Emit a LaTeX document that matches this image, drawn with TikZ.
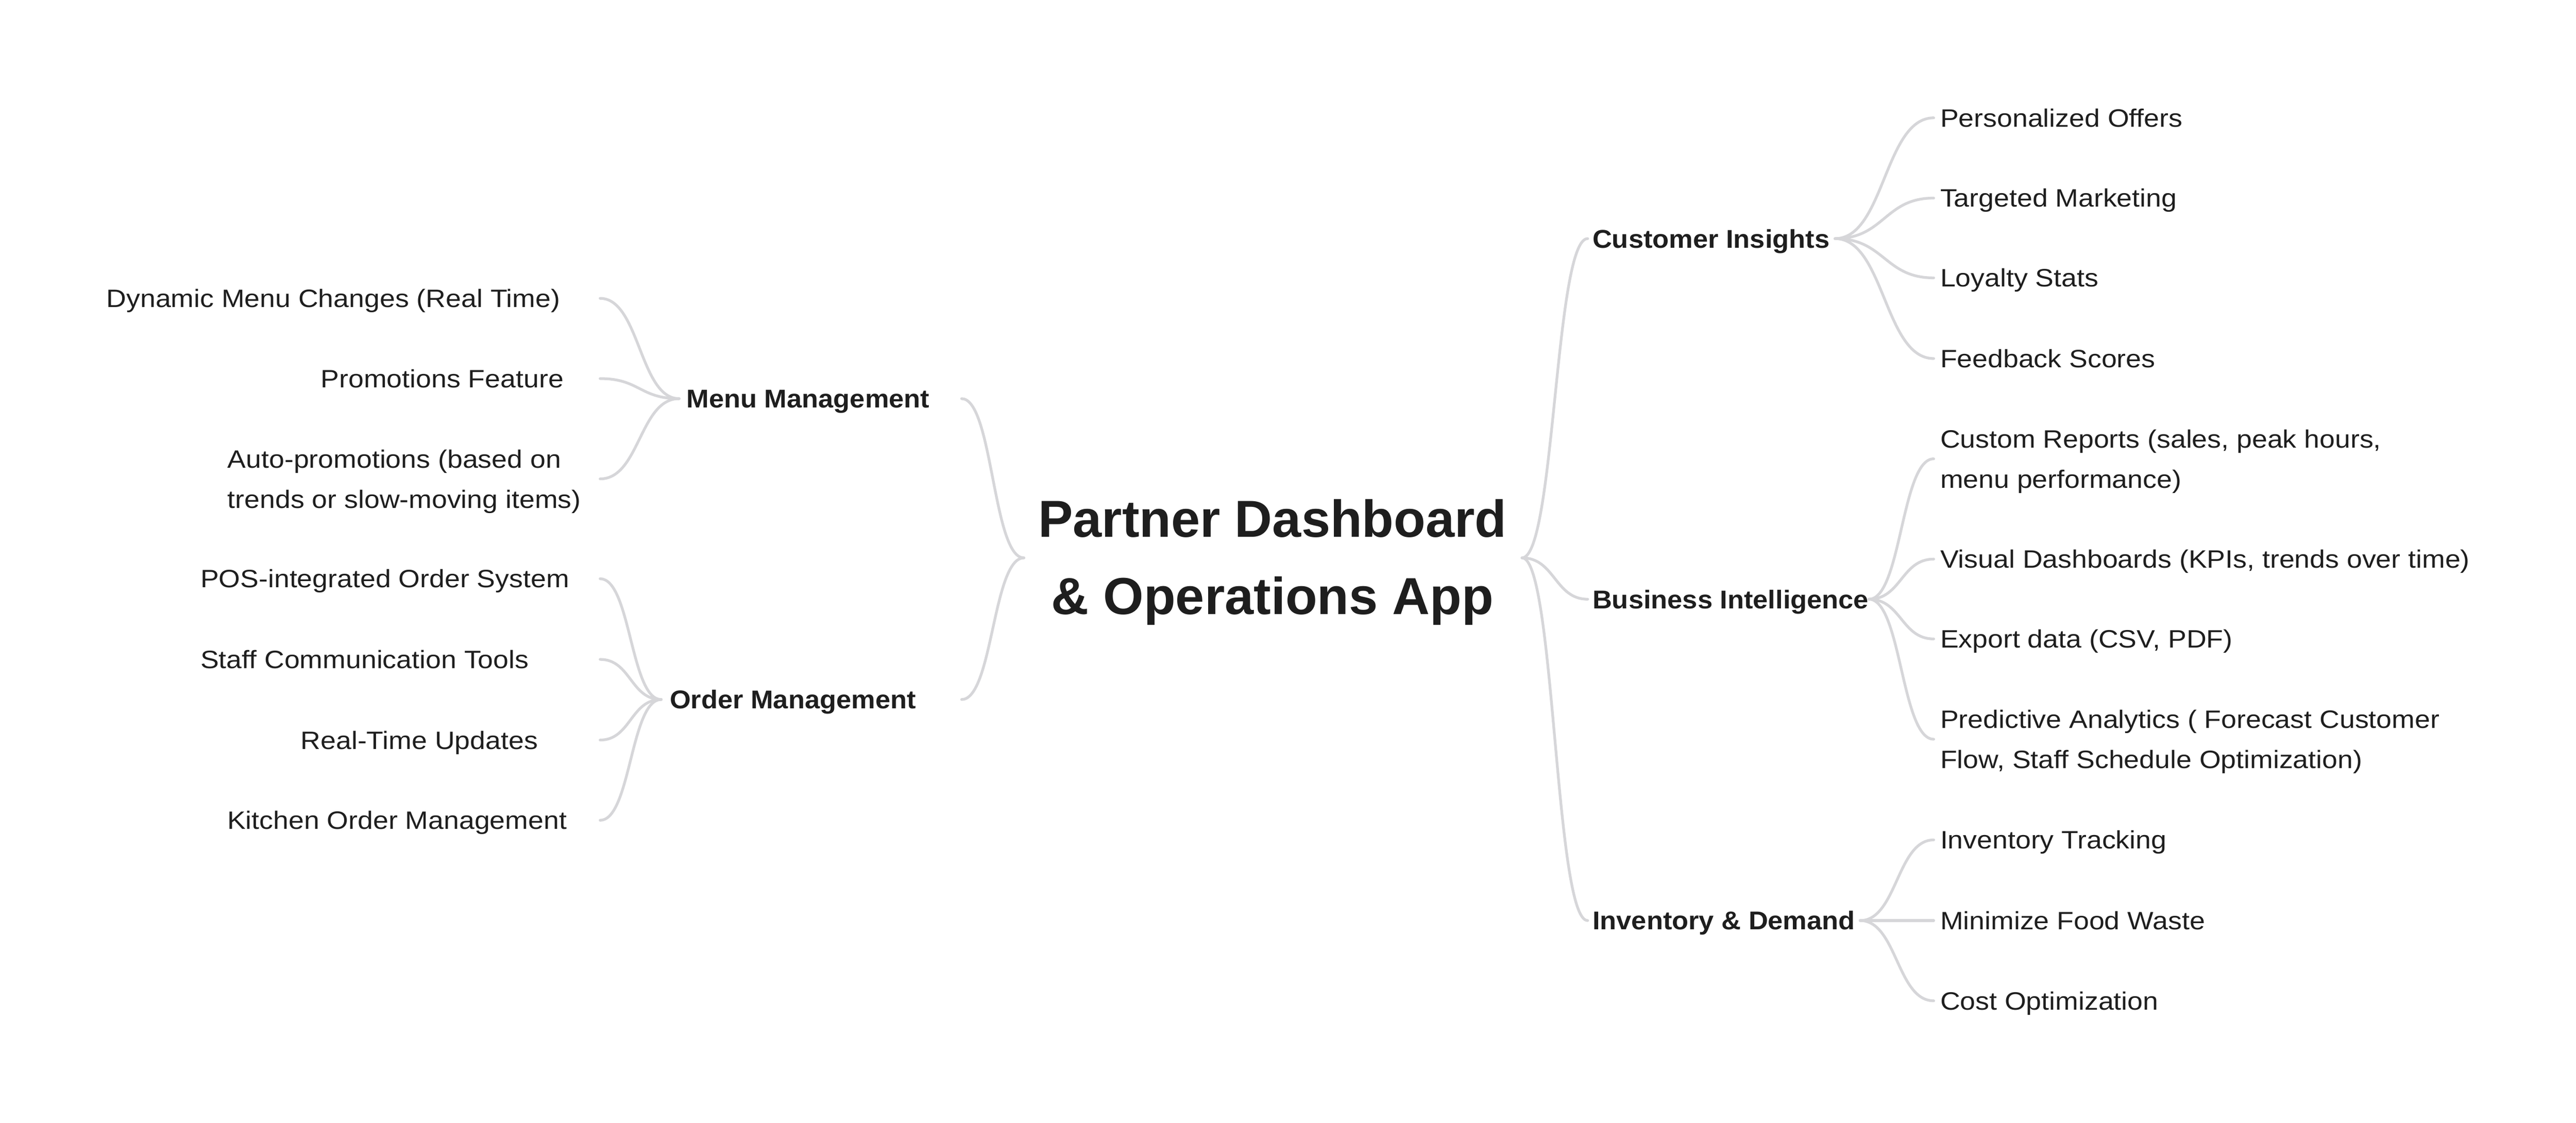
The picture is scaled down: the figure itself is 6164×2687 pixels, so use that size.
\documentclass[tikz,border=0pt]{standalone}
\usepackage{fontspec}
\newfontfamily\mmreg[FakeStretch=1.10]{Liberation Sans}
\newfontfamily\mmbold[FakeStretch=1.05]{Liberation Sans}
\newfontfamily\mmtitlefam{Liberation Sans}
\newcommand\mmleaf{\mmreg\fontsize{17.1pt}{27.3pt}\selectfont}
\newcommand\mmbranch{\mmbold\bfseries\fontsize{17.5pt}{21pt}\selectfont}
\newcommand\mmtitle{\mmtitlefam\bfseries\fontsize{35.4pt}{52.5pt}\selectfont}
\definecolor{ink}{HTML}{1E1E1E}
\definecolor{edge}{HTML}{D6D6D9}
\begin{document}
\begin{tikzpicture}[x=0.01cm,y=-0.01cm,
  conn/.style={draw=edge,line width=1.85pt,line cap=round},
  leaf/.style={inner sep=0pt,anchor=west,text=ink,font=\mmleaf,text height=12.24pt,text depth=0pt},
  leaftwo/.style={leaf,text depth=27.3pt},
  branch/.style={inner sep=0pt,anchor=west,text=ink,font=\mmbranch,text height=12.53pt,text depth=0pt},
  hubtext/.style={inner sep=0pt,anchor=north,text=ink,font=\mmtitle,text height=25.35pt,text depth=52.5pt}]
\fill[white] (0,0) rectangle (6164,2687);
\useasboundingbox (0,0) rectangle (6164,2687);

% columns / junctions
\coordinate (hubL) at (2450,1335);
\coordinate (hubR) at (3642,1335);
\coordinate (colA) at (1436,0);
\coordinate (colMM) at (1625,0);
\coordinate (colOM) at (1582,0);
\coordinate (colBR) at (2301,0);
\coordinate (colRL) at (3799,0);
\coordinate (colCI) at (4391,0);
\coordinate (colBI) at (4472,0);
\coordinate (colID) at (4451,0);
\coordinate (colRC) at (4627,0);

% centre
\node[hubtext] (hub) at (3045,1195) {\begin{tabular}[t]{@{}c@{}}Partner Dashboard\\\& Operations App\end{tabular}};

% left branches
\node[branch] (mm) at (1642,954) {Menu Management};
\node[branch] (om) at (1602,1674) {Order Management};

% left leaves
\node[leaf] (dyn) at (254,714) {Dynamic Menu Changes (Real Time)};
\node[leaf] (promo) at (767,906) {Promotions Feature};
\node[leaftwo] (auto) at (544,1146) {\vtop{\hbox{Auto-promotions (based on}\hbox{trends or slow-moving items)}}};
\node[leaf] (pos) at (479,1385) {POS-integrated Order System};
\node[leaf] (staff) at (479,1578) {Staff Communication Tools};
\node[leaf] (rtu) at (719,1771) {Real-Time Updates};
\node[leaf] (kom) at (543,1963) {Kitchen Order Management};

% right branches
\node[branch] (ci) at (3810,571) {Customer Insights};
\node[branch] (bi) at (3810,1434) {Business Intelligence};
\node[branch] (id) at (3810,2203) {Inventory \& Demand};

% right leaves
\node[leaf] (po) at (4642,282) {Personalized Offers};
\node[leaf] (tm) at (4642,474) {Targeted Marketing};
\node[leaf] (ls) at (4642,665) {Loyalty Stats};
\node[leaf] (fs) at (4642,858) {Feedback Scores};
\node[leaftwo] (cr) at (4642,1098) {\vtop{\hbox{Custom Reports (sales, peak hours,}\hbox{menu performance)}}};
\node[leaf] (vd) at (4642,1338) {Visual Dashboards (KPIs, trends over time)};
\node[leaf] (ed) at (4642,1529) {Export data (CSV, PDF)};
\node[leaftwo] (pa) at (4642,1769) {\vtop{\hbox{Predictive Analytics ( Forecast Customer}\hbox{Flow, Staff Schedule Optimization)}}};
\node[leaf] (it) at (4642,2010) {Inventory Tracking};
\node[leaf] (mfw) at (4642,2203) {Minimize Food Waste};
\node[leaf] (co) at (4642,2395) {Cost Optimization};

% centre connectors
\draw[conn] (hubL) to[out=180,in=0,distance=21.2pt] (colBR |- mm.west);
\draw[conn] (hubL) to[out=180,in=0,distance=21.2pt] (colBR |- om.west);
\draw[conn] (hubR) to[out=0,in=180,distance=22.3pt] (colRL |- ci.west);
\draw[conn] (hubR) to[out=0,in=180,distance=22.3pt] (colRL |- bi.west);
\draw[conn] (hubR) to[out=0,in=180,distance=22.3pt] (colRL |- id.west);

% menu management
\foreach \n in {dyn,promo,auto}
  \draw[conn] (colMM |- mm.west) to[out=180,in=0,distance=26.9pt] (colA |- \n.west);
% order management
\foreach \n in {pos,staff,rtu,kom}
  \draw[conn] (colOM |- om.west) to[out=180,in=0,distance=20.8pt] (colA |- \n.west);
% customer insights
\foreach \n in {po,tm,ls,fs}
  \draw[conn] (colCI |- ci.west) to[out=0,in=180,distance=33.6pt] (colRC |- \n.west);
% business intelligence
\foreach \n in {cr,vd,ed,pa}
  \draw[conn] (colBI |- bi.west) to[out=0,in=180,distance=22pt] (colRC |- \n.west);
% inventory & demand
\foreach \n in {it,mfw,co}
  \draw[conn] (colID |- id.west) to[out=0,in=180,distance=25pt] (colRC |- \n.west);
\end{tikzpicture}
\end{document}
